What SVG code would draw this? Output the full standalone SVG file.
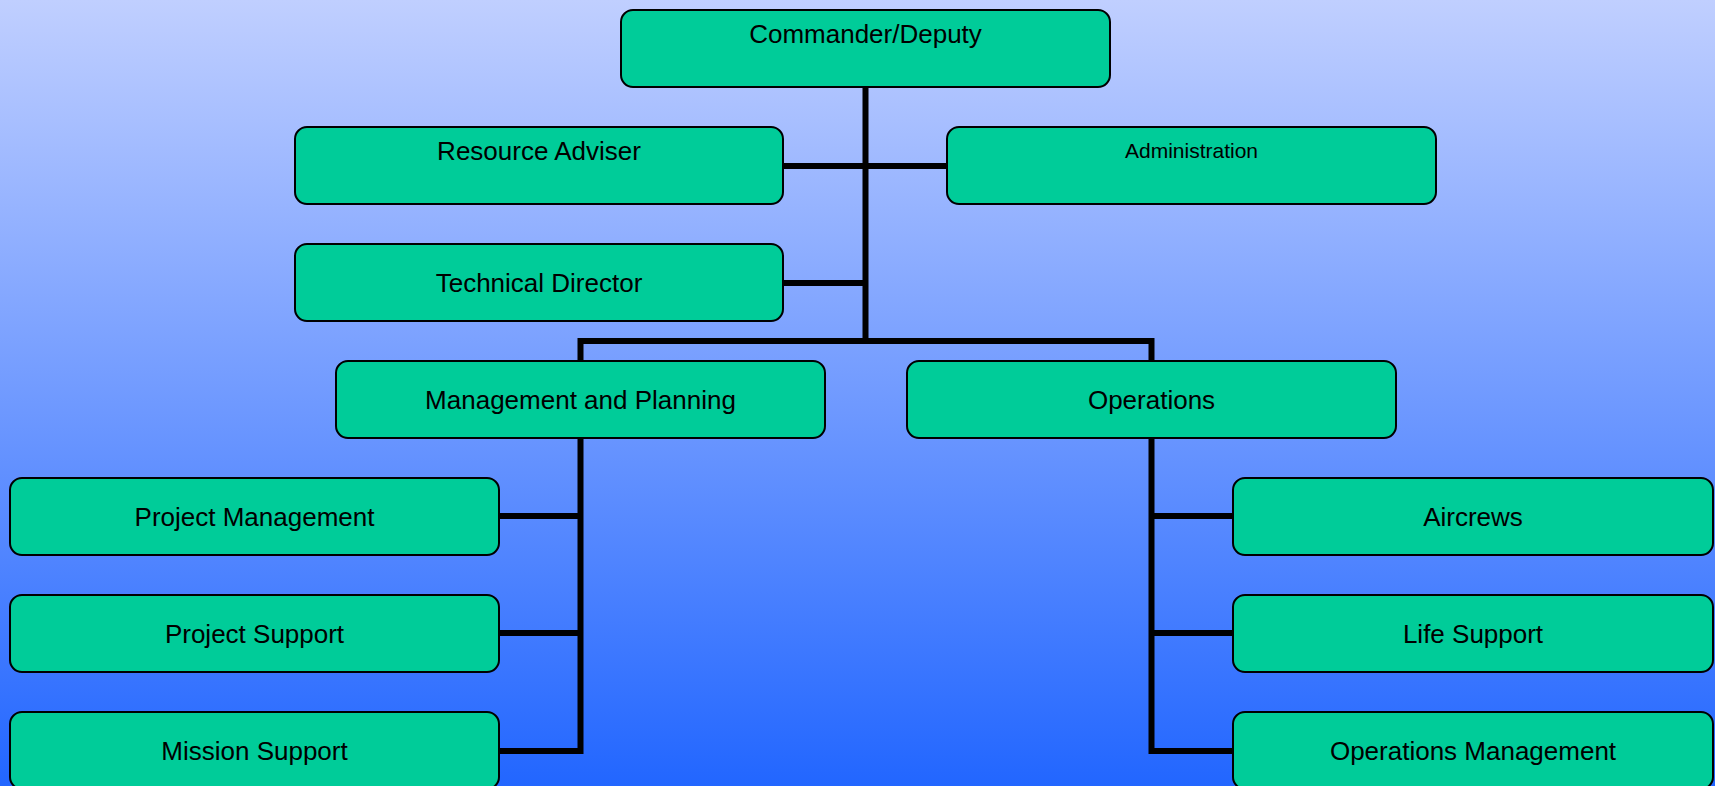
<svg xmlns="http://www.w3.org/2000/svg" width="1715" height="786" viewBox="0 0 1715 786">
<defs>
<linearGradient id="bg" x1="0" y1="0" x2="0" y2="1">
<stop offset="0" stop-color="#c0cfff"/>
<stop offset="1" stop-color="#2266ff"/>
</linearGradient>
<style>
.box{fill:#00cc99;stroke:#000;stroke-width:2}
.lbl{font-family:"Liberation Sans",Arial,sans-serif;font-size:26px;fill:#000;text-anchor:middle}
.sm{font-size:21px}
.con{fill:none;stroke:#000;stroke-width:6;stroke-linejoin:miter;stroke-linecap:butt}
</style>
</defs>
<rect x="0" y="0" width="1715" height="786" fill="url(#bg)"/>
<g id="connectors">
<path class="con" d="M865.5 87 V344"/>
<path class="con" d="M783 166 H947"/>
<path class="con" d="M783 283 H865.5"/>
<path class="con" d="M580.5 361 V341 H1151.5 V361"/>
<path class="con" d="M580.5 438 V751 H499"/>
<path class="con" d="M499 516 H580.5"/>
<path class="con" d="M499 633 H580.5"/>
<path class="con" d="M1151.5 438 V751 H1233"/>
<path class="con" d="M1151.5 516 H1233"/>
<path class="con" d="M1151.5 633 H1233"/>
</g>
<g id="commander"><rect class="box" x="621" y="10" width="489" height="77" rx="12"/><text class="lbl" x="865.5" y="43">Commander/Deputy</text></g>
<g id="resource-adviser"><rect class="box" x="295" y="127" width="488" height="77" rx="12"/><text class="lbl" x="539" y="160">Resource Adviser</text></g>
<g id="administration"><rect class="box" x="947" y="127" width="489" height="77" rx="12"/><text class="lbl sm" x="1191.5" y="158">Administration</text></g>
<g id="technical-director"><rect class="box" x="295" y="244" width="488" height="77" rx="12"/><text class="lbl" x="539" y="292">Technical Director</text></g>
<g id="management-planning"><rect class="box" x="336" y="361" width="489" height="77" rx="12"/><text class="lbl" x="580.5" y="409">Management and Planning</text></g>
<g id="operations"><rect class="box" x="907" y="361" width="489" height="77" rx="12"/><text class="lbl" x="1151.5" y="409">Operations</text></g>
<g id="project-management"><rect class="box" x="10" y="478" width="489" height="77" rx="12"/><text class="lbl" x="254.5" y="526">Project Management</text></g>
<g id="project-support"><rect class="box" x="10" y="595" width="489" height="77" rx="12"/><text class="lbl" x="254.5" y="643">Project Support</text></g>
<g id="mission-support"><rect class="box" x="10" y="712" width="489" height="77" rx="12"/><text class="lbl" x="254.5" y="760">Mission Support</text></g>
<g id="aircrews"><rect class="box" x="1233" y="478" width="480" height="77" rx="12"/><text class="lbl" x="1473" y="526">Aircrews</text></g>
<g id="life-support"><rect class="box" x="1233" y="595" width="480" height="77" rx="12"/><text class="lbl" x="1473" y="643">Life Support</text></g>
<g id="operations-management"><rect class="box" x="1233" y="712" width="480" height="77" rx="12"/><text class="lbl" x="1473" y="760">Operations Management</text></g>
</svg>
